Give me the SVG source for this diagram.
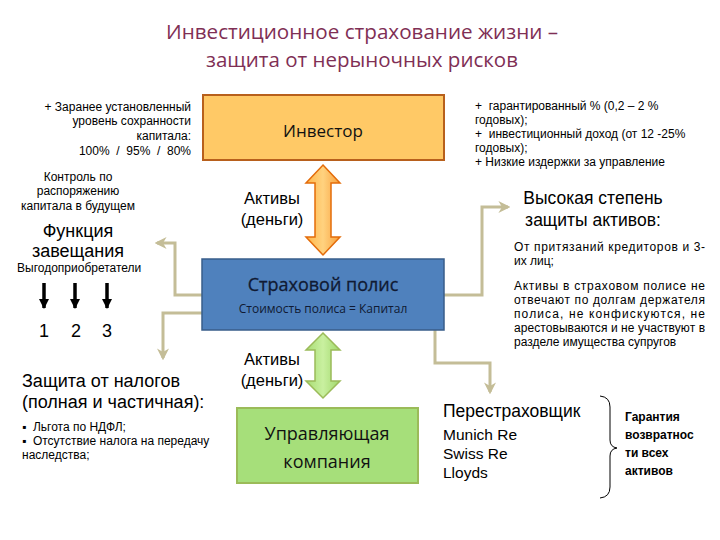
<svg xmlns="http://www.w3.org/2000/svg" width="720" height="540" viewBox="0 0 720 540">
<defs>
<style>
.t{font-family:"Liberation Sans",Arial,sans-serif;fill:#000}
.s{font-size:12px}
.c{font-family:"Open Sans","Noto Sans",sans-serif}
.pre text{white-space:pre}
.conn{fill:none;stroke:#C4BD97;stroke-width:3}
.blk{stroke:#000;stroke-width:3.5}
</style>
<linearGradient id="og" x1="0" y1="0" x2="1" y2="0">
<stop offset="0" stop-color="#FFB648"/><stop offset="0.5" stop-color="#FFD27F"/><stop offset="1" stop-color="#F9A03C"/>
</linearGradient>
<linearGradient id="gg" x1="0" y1="0" x2="1" y2="0">
<stop offset="0" stop-color="#A8DD73"/><stop offset="0.5" stop-color="#C9F0A0"/><stop offset="1" stop-color="#A0D86A"/>
</linearGradient>
<marker id="ga" viewBox="0 0 10 10" refX="8" refY="5" markerWidth="4" markerHeight="4" orient="auto">
<path d="M0,0 L10,5 L0,10 L3,5 Z" fill="#C4BD97"/>
</marker>
<marker id="ba" viewBox="0 0 10 10" refX="9" refY="5" markerWidth="3" markerHeight="3" orient="auto">
<path d="M0,0 L10,5 L0,10 Z" fill="#000"/>
</marker>
</defs>
<rect width="720" height="540" fill="#fff"/>

<g id="title" class="c" font-size="20" fill="#7F2F55" text-anchor="middle">
<text x="362" y="39" textLength="392" lengthAdjust="spacingAndGlyphs">Инвестиционное страхование жизни –</text>
<text x="362" y="67" textLength="312" lengthAdjust="spacingAndGlyphs">защита от нерыночных рисков</text>
</g>

<g id="connectors">
<polyline class="conn" points="202,295 175,295 175,243 157,243" marker-end="url(#ga)"/>
<polyline class="conn" points="202,313 163,313 163,358" marker-end="url(#ga)"/>
<polyline class="conn" points="444,295 482,295 482,207 508,207" marker-end="url(#ga)"/>
<polyline class="conn" points="435,330 435,363 490,363 490,392" marker-end="url(#ga)"/>
<line class="blk" x1="44" y1="283" x2="44" y2="308" marker-end="url(#ba)"/>
<line class="blk" x1="75" y1="283" x2="75" y2="308" marker-end="url(#ba)"/>
<line class="blk" x1="107" y1="283" x2="107" y2="308" marker-end="url(#ba)"/>
<path d="M323,165 L340,183 L331,183 L331,237 L340,237 L323,255 L306,237 L315,237 L315,183 L306,183 Z" fill="url(#og)" stroke="#E46C0A" stroke-width="1.5"/>
<path d="M323,333 L340,350 L331,350 L331,381 L340,381 L323,398 L306,381 L315,381 L315,350 L306,350 Z" fill="url(#gg)" stroke="#9BBB59" stroke-width="1.5"/>
<path d="M600,396 Q610,397 610,407 L610,440 Q610,447 617,448 Q610,449 610,456 L610,487 Q610,497 600,498" fill="none" stroke="#000" stroke-width="1"/>
</g>

<g id="investor">
<rect x="203" y="95" width="241" height="65" fill="#FFC966" stroke="#B8601C" stroke-width="2"/>
<text class="c" x="323" y="137" font-size="17" text-anchor="middle" fill="#111">Инвестор</text>
</g>

<g id="policy">
<rect x="202" y="259" width="242" height="71" fill="#4F81BD" stroke="#385D8A" stroke-width="1.5"/>
<text class="c" x="323" y="291" font-size="18" text-anchor="middle" fill="#101a33" stroke="#101a33" stroke-width="0.3">Страховой полис</text>
<text class="c" x="323" y="313" font-size="12" text-anchor="middle" fill="#101a33">Стоимость полиса = Капитал</text>
</g>

<g id="company">
<rect x="237" y="408" width="181" height="75" fill="#A6DF7A" stroke="#9BBB59" stroke-width="2"/>
<text class="c" x="327" y="440" font-size="18" text-anchor="middle" fill="#111">Управляющая</text>
<text class="c" x="327" y="468" font-size="18" text-anchor="middle" fill="#111">компания</text>
</g>

<g id="assets-labels" class="t" font-size="16.5" text-anchor="middle">
<text x="272" y="204">Активы</text>
<text x="272" y="225">(деньги)</text>
<text x="272" y="365">Активы</text>
<text x="272" y="386">(деньги)</text>
</g>

<g id="left-top" class="t s pre" text-anchor="end">
<text x="191" y="111">+ Заранее установленный</text>
<text x="191" y="125">уровень сохранности</text>
<text x="191" y="140">капитала:</text>
<text x="191" y="155">100%  /  95%  /  80%</text>
</g>

<g id="will" class="t">
<text class="s" x="78" y="181" text-anchor="middle">Контроль по</text>
<text class="s" x="78" y="195" text-anchor="middle">распоряжению</text>
<text class="s" x="78" y="210" text-anchor="middle">капитала в будущем</text>
<text x="78" y="237" font-size="18" text-anchor="middle">Функция</text>
<text x="78" y="257" font-size="18" text-anchor="middle">завещания</text>
<text class="s" x="17" y="272">Выгодоприобретатели</text>
</g>

<g id="numbers" class="t" font-size="18" text-anchor="middle">
<text x="44" y="337">1</text>
<text x="76" y="337">2</text>
<text x="107" y="337">3</text>
</g>

<g id="tax" class="t pre">
<text x="22" y="387" font-size="18">Защита от налогов</text>
<text x="22" y="408" font-size="18">(полная и частичная):</text>
<text x="22" y="431" font-size="12">▪  Льгота по НДФЛ;</text>
<text x="22" y="445" font-size="12">▪  Отсутствие налога на передачу</text>
<text x="22" y="459" font-size="12">наследства;</text>
</g>

<g id="right-top" class="t s pre">
<text x="475" y="110">+  гарантированный % (0,2 – 2 %</text>
<text x="475" y="124">годовых);</text>
<text x="475" y="138">+  инвестиционный доход (от 12 -25%</text>
<text x="475" y="152">годовых);</text>
<text x="475" y="166">+ Низкие издержки за управление</text>
</g>

<g id="protection" class="t">
<text x="593" y="204" font-size="17.5" text-anchor="middle">Высокая степень</text>
<text x="593" y="226" font-size="17.5" text-anchor="middle">защиты активов:</text>
<text class="s" x="514" y="251" textLength="191" lengthAdjust="spacing">От притязаний  кредиторов и  3-</text>
<text class="s" x="514" y="265">их лиц;</text>
<text class="s" x="514" y="290" textLength="191" lengthAdjust="spacing">Активы в страховом полисе не</text>
<text class="s" x="514" y="304" textLength="191" lengthAdjust="spacing">отвечают по долгам держателя</text>
<text class="s" x="514" y="318" textLength="191" lengthAdjust="spacing">полиса, не конфискуются, не</text>
<text class="s" x="514" y="332" textLength="191" lengthAdjust="spacing">арестовываются и не участвуют в</text>
<text class="s" x="514" y="346">разделе имущества супругов</text>
</g>

<g id="reinsurer" class="t">
<text x="443" y="417" font-size="17.5">Перестраховщик</text>
<text x="443" y="440" font-size="15.5">Munich Re</text>
<text x="443" y="459" font-size="15.5">Swiss Re</text>
<text x="443" y="478" font-size="15.5">Lloyds</text>
</g>

<g id="guarantee" class="t" font-size="12" font-weight="bold">
<text x="625" y="421">Гарантия</text>
<text x="625" y="439">возвратнос</text>
<text x="625" y="457">ти всех</text>
<text x="625" y="475">активов</text>
</g>
</svg>
